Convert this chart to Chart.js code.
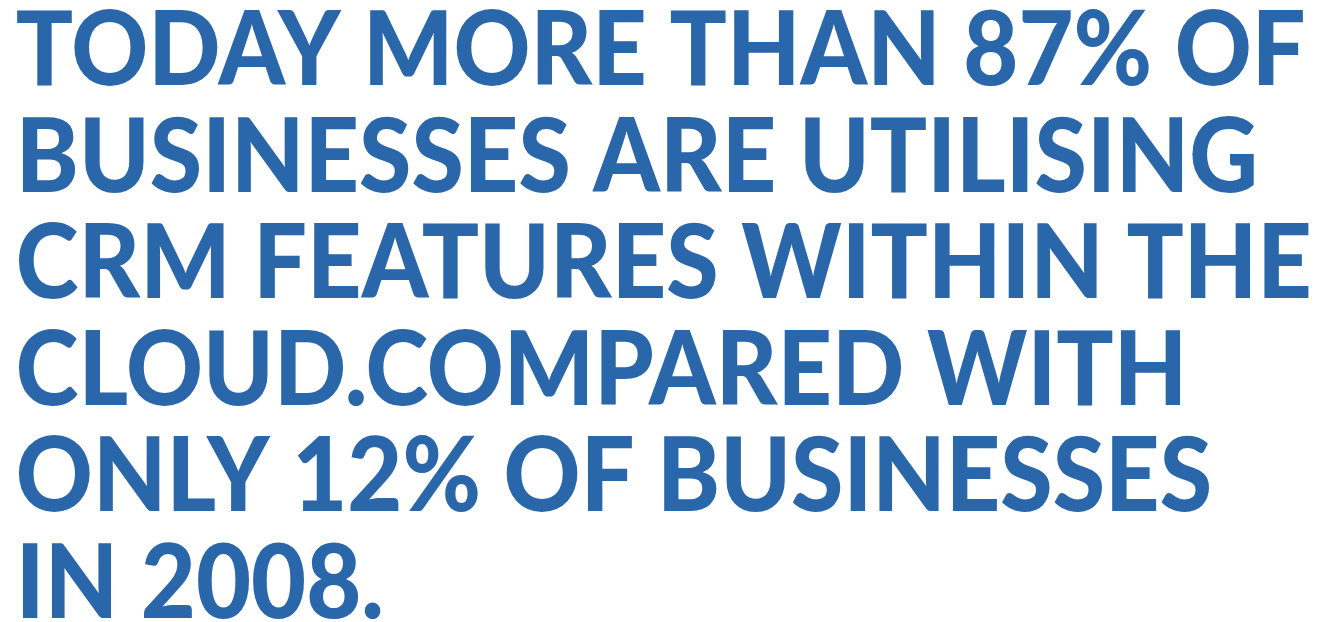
<!DOCTYPE html>
<html>
<head>
<meta charset="utf-8">
<script src="https://cdn.jsdelivr.net/npm/chart.js@4.4.1/dist/chart.umd.min.js"></script>
<style>
  html, body { margin: 0; padding: 0; background: #ffffff; overflow: hidden; }
  #wrap { position: absolute; left: 0; top: -1px; width: 1600px; height: 640px; }
</style>
</head>
<body>
<div id="wrap"><canvas id="myChart"></canvas></div>
<script>
// statement text, one entry per printed line
const lines = [
   'TODAY MORE THAN 87% OF',
   'BUSINESSES ARE UTILISING',
   'CRM FEATURES WITHIN THE',
   'CLOUD.COMPARED WITH',
   'ONLY 12% OF BUSINESSES',
   'IN 2008.'
];
const textColor = 'rgb(41, 102, 170)';

// the original face is narrower than Lato, so squeeze the drawing a bit
const squeezePlugin = {
   id: 'squeeze',
   beforeDraw: (chart) => { chart.ctx.save(); chart.ctx.scale(0.932, 1); },
   afterDraw: (chart) => { chart.ctx.restore(); }
};

const config = {
   type: 'bar',
   data: { labels: [], datasets: [] },
   options: {
      responsive: true,
      maintainAspectRatio: false,
      animation: false,
      layout: { padding: { left: 17, top: 0 } },
      scales: { x: { display: false }, y: { display: false } },
      plugins: {
         legend: { display: false },
         tooltip: { enabled: false },
         title: {
            display: true,
            text: lines,
            align: 'start',
            color: textColor,
            padding: 0,
            font: { family: 'Lato', weight: '900', size: 102, lineHeight: '106.5px' }
         }
      }
   },
   plugins: [squeezePlugin]
};

var ctx = document.getElementById('myChart').getContext('2d');
var myChart = new Chart(ctx, config);
</script>
</body>
</html>
